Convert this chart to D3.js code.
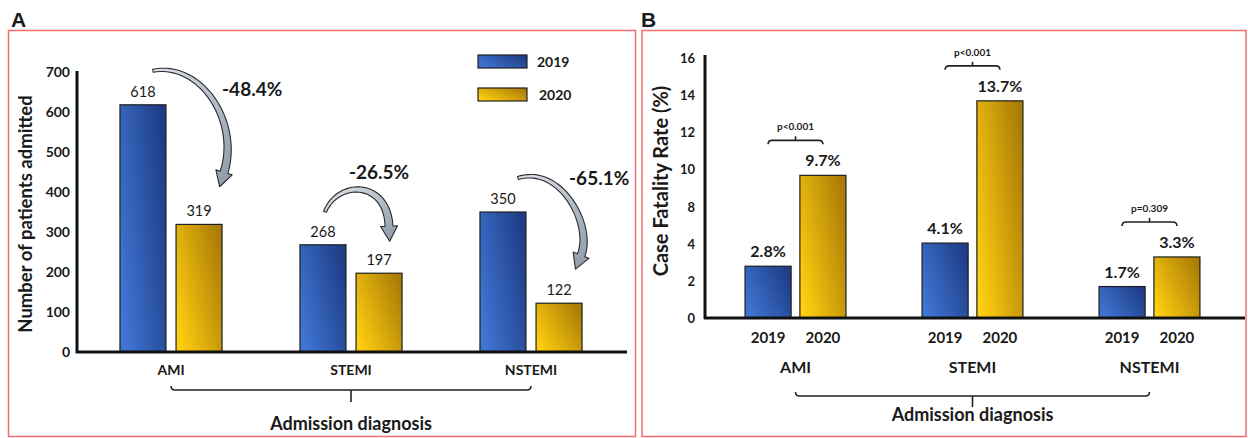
<!DOCTYPE html>
<html lang="en">
<head>
<meta charset="UTF-8">
<title>AMI admissions and case fatality, 2019 vs 2020</title>
<script src="https://d3js.org/d3.v7.min.js"></script>
<style>
  body { margin: 0; background: #fff; }
  svg text { font-family: Lato, "Open Sans", sans-serif; fill: #1a1a1a; }
  .panel-letter { font-family: "Liberation Sans", Arial, sans-serif !important; font-weight: bold; font-size: 21px; }
</style>
</head>
<body>
<svg width="1248" height="438"></svg>
<script>
// --- data ---
const categories = ["AMI", "STEMI", "NSTEMI"];
const years = ["2019", "2020"];
const admitted2019 = [618, 268, 350];
const admitted2020 = [319, 197, 122];
const changeLabels = ["-48.4%", "-26.5%", "-65.1%"];
const fatality2019 = [2.8, 4.1, 1.7];
const fatality2020 = [9.7, 13.7, 3.3];
const pLabels = ["p<0.001", "p<0.001", "p=0.309"];
const ticksA = [0, 100, 200, 300, 400, 500, 600, 700];
// the original axis of panel B has no "6" label: 4 is followed by 8
const ticksB = [0, 2, 4, 8, 10, 12, 14, 16];

const svg = d3.select("svg");
const defs = svg.append("defs");

function grad(id, c0, c1, x1, y1, x2, y2) {
  const g = defs.append("linearGradient").attr("id", id)
    .attr("x1", x1).attr("y1", y1).attr("x2", x2).attr("y2", y2);
  g.append("stop").attr("offset", "0%").attr("stop-color", c0);
  g.append("stop").attr("offset", "100%").attr("stop-color", c1);
}
grad("gBlue", "#3f76d4", "#1f3d86", 0, 0.75, 1, 0.25);
grad("gGold", "#ffcf10", "#aa7c06", 0, 0.8, 1, 0.2);
grad("gArrow", "#dde3ea", "#8d99a9", 0, 0, 1, 1);
const fillOf = { "2019": "url(#gBlue)", "2020": "url(#gGold)" };

// panel frames and letters
svg.append("rect").attr("x", 8.5).attr("y", 30.5).attr("width", 627).attr("height", 406)
  .attr("fill", "none").attr("stroke", "#f07070").attr("stroke-width", 1.5);
svg.append("rect").attr("x", 642).attr("y", 30.5).attr("width", 604).attr("height", 406)
  .attr("fill", "none").attr("stroke", "#f07070").attr("stroke-width", 1.5);
svg.append("text").attr("class", "panel-letter").attr("x", 11).attr("y", 27).text("A");
svg.append("text").attr("class", "panel-letter").attr("x", 641).attr("y", 27).text("B");

// bracket used under the category labels and for p-values
function bracket(g, xl, xr, y, dir, tick) {
  // dir = -1 : ends bend up, tick goes down ; dir = 1 : ends bend down, tick goes up
  const r = 4;
  g.append("path")
    .attr("d", `M${xl},${y + dir * r} Q${xl},${y} ${xl + r},${y} H${xr - r} Q${xr},${y} ${xr},${y + dir * r}`)
    .attr("fill", "none").attr("stroke", "#222").attr("stroke-width", 1.6);
  const xm = (xl + xr) / 2;
  g.append("line").attr("x1", xm).attr("x2", xm).attr("y1", y).attr("y2", y - dir * tick)
    .attr("stroke", "#222").attr("stroke-width", 1.6);
}

// tapered curved arrow
function arrowPath(p0, c1, c2, p3, w0, w1, headLen, headW) {
  const N = 40, left = [], right = [];
  const bz = (t, a, b, c, d) => (1 - t) ** 3 * a + 3 * (1 - t) ** 2 * t * b + 3 * (1 - t) * t * t * c + t ** 3 * d;
  const dz = (t, a, b, c, d) => 3 * (1 - t) ** 2 * (b - a) + 6 * (1 - t) * t * (c - b) + 3 * t * t * (d - c);
  let ux = 0, uy = 0;
  for (let i = 0; i <= N; i++) {
    const t = i / N;
    const x = bz(t, p0[0], c1[0], c2[0], p3[0]), y = bz(t, p0[1], c1[1], c2[1], p3[1]);
    const dx = dz(t, p0[0], c1[0], c2[0], p3[0]), dy = dz(t, p0[1], c1[1], c2[1], p3[1]);
    const len = Math.hypot(dx, dy);
    ux = dx / len; uy = dy / len;
    const w = (w0 + (w1 - w0) * t) / 2;
    left.push([x - uy * w, y + ux * w]);
    right.push([x + uy * w, y - ux * w]);
  }
  const tip = [p3[0] + ux * headLen, p3[1] + uy * headLen];
  const hl = [p3[0] - uy * headW / 2, p3[1] + ux * headW / 2];
  const hr = [p3[0] + uy * headW / 2, p3[1] - ux * headW / 2];
  return d3.line()([...left, hl, tip, hr, ...right.reverse()]) + "Z";
}

// ================= PANEL A =================
const gA = svg.append("g");
const yA = d3.scaleLinear().domain([0, 700]).range([352, 72]);
const xA = d3.scaleBand().domain(categories).range([81, 621]).paddingInner(0.433).paddingOuter(0.2165);
const x1A = d3.scaleBand().domain(years).range([0, xA.bandwidth()]).paddingInner(0.18);

const rowsA = categories.map((c, i) => ({ cat: c, vals: [
  { year: "2019", v: admitted2019[i] }, { year: "2020", v: admitted2020[i] }] }));

const grpA = gA.selectAll("g.grp").data(rowsA).join("g").attr("class", "grp")
  .attr("transform", d => `translate(${xA(d.cat)},0)`);
grpA.selectAll("rect").data(d => d.vals).join("rect")
  .attr("x", d => x1A(d.year)).attr("width", x1A.bandwidth())
  .attr("y", d => yA(d.v)).attr("height", d => yA(0) - yA(d.v))
  .attr("fill", d => fillOf[d.year]).attr("stroke", "#1e1e1e").attr("stroke-width", 1.2);
grpA.selectAll("text.val").data(d => d.vals).join("text").attr("class", "val")
  .attr("x", d => x1A(d.year) + x1A.bandwidth() / 2).attr("y", d => yA(d.v) - 8)
  .attr("text-anchor", "middle").attr("font-size", 14.5).text(d => d.v);

// y axis A
const axA = gA.append("g").attr("transform", "translate(77,0)")
  .call(d3.axisLeft(yA).tickValues(ticksA).tickSize(0).tickPadding(7));
axA.select(".domain").attr("stroke", "#111").attr("stroke-width", 3).attr("d", "M0,353V71");
axA.selectAll("text").attr("font-size", 14).attr("font-weight", "bold").attr("font-family", "Lato");
gA.append("line").attr("x1", 76).attr("x2", 627).attr("y1", 352).attr("y2", 352)
  .attr("stroke", "#111").attr("stroke-width", 3);

// category labels A
const cxA = gA.append("g").attr("transform", "translate(0,352)")
  .call(d3.axisBottom(xA).tickSize(0).tickPadding(13));
cxA.select(".domain").remove();
cxA.selectAll("text").attr("font-size", 14).attr("font-weight", "bold").attr("font-family", "Lato");

const midA = c => xA(c) + xA.bandwidth() / 2;
bracket(gA, midA("AMI"), midA("NSTEMI"), 390, -1, 12);
gA.append("text").attr("x", midA("STEMI")).attr("y", 430).attr("text-anchor", "middle")
  .attr("font-size", 18).attr("font-weight", "bold").text("Admission diagnosis");

gA.append("text").attr("transform", "translate(32,214) rotate(-90)").attr("text-anchor", "middle")
  .attr("font-size", 18.5).attr("font-weight", "bold").text("Number of patients admitted");

// legend
const leg = gA.append("g");
years.forEach((yr, i) => {
  leg.append("rect").attr("x", 478).attr("y", 55 + i * 33).attr("width", 49).attr("height", 13)
    .attr("fill", fillOf[yr]).attr("stroke", "#1e1e1e").attr("stroke-width", 1.2);
  leg.append("text").attr("x", 537 + i * 2).attr("y", 67 + i * 33)
    .attr("font-size", 14).attr("font-weight", "bold").text(yr);
});

// change arrows: offsets relative to the 2019 bar top (start) and 2020 bar top (end)
const arrowLayout = [
  { p0: [10, -34], c1: [57, -43], c2: [41, -104], p3: [25, -52], lab: [23, -9, "start"], labFrom: 0 },
  { p0: [2, -33], c1: [15, -65], c2: [8, -93], p3: [10, -47], lab: [0, -94, "middle"], labFrom: 1 },
  { p0: [15, -34], c1: [58, -47], c2: [34, -78], p3: [22, -48], lab: [10, -118, "start"], labFrom: 1 }
];
rowsA.forEach((d, i) => {
  const L = arrowLayout[i];
  const b19 = [xA(d.cat) + x1A("2019") + x1A.bandwidth() / 2, yA(d.vals[0].v)];
  const b20 = [xA(d.cat) + x1A("2020") + x1A.bandwidth() / 2, yA(d.vals[1].v)];
  const rel = (b, o) => [b[0] + o[0], b[1] + o[1]];
  gA.append("path")
    .attr("d", arrowPath(rel(b19, L.p0), rel(b19, L.c1), rel(b20, L.c2), rel(b20, L.p3), 3, 8, 15, 17))
    .attr("fill", "url(#gArrow)").attr("stroke", "#2a2a2a").attr("stroke-width", 1.1)
    .attr("stroke-linejoin", "round");
  const yRef = L.labFrom === 0 ? b19[1] : b20[1];
  gA.append("text").attr("x", b20[0] + L.lab[0]).attr("y", yRef + L.lab[1])
    .attr("text-anchor", L.lab[2]).attr("font-size", 19).attr("font-weight", "bold")
    .text(changeLabels[i]);
});

// ================= PANEL B =================
const gB = svg.append("g");
const yB = d3.scaleLinear().domain([0, 4, 8, 16]).range([318, 244, 207, 58]);
const xB = d3.scaleBand().domain(categories).range([707, 1238]).paddingInner(0.43).paddingOuter(0.215);
const x1B = d3.scaleBand().domain(years).range([0, xB.bandwidth()]).paddingInner(0.16);

const rowsB = categories.map((c, i) => ({ cat: c, p: pLabels[i], vals: [
  { year: "2019", v: fatality2019[i] }, { year: "2020", v: fatality2020[i] }] }));

const grpB = gB.selectAll("g.grp").data(rowsB).join("g").attr("class", "grp")
  .attr("transform", d => `translate(${xB(d.cat)},0)`);
grpB.selectAll("rect").data(d => d.vals).join("rect")
  .attr("x", d => x1B(d.year)).attr("width", x1B.bandwidth())
  .attr("y", d => yB(d.v)).attr("height", d => yB(0) - yB(d.v))
  .attr("fill", d => fillOf[d.year]).attr("stroke", "#1e1e1e").attr("stroke-width", 1.2);
grpB.selectAll("text.val").data(d => d.vals).join("text").attr("class", "val")
  .attr("x", d => x1B(d.year) + x1B.bandwidth() / 2).attr("y", d => yB(d.v) - 9)
  .attr("text-anchor", "middle").attr("font-size", 16).attr("font-weight", "bold")
  .text(d => d.v.toFixed(1) + "%");

// year labels under each bar
grpB.each(function () {
  const ax = d3.select(this).append("g").attr("transform", "translate(0,318)")
    .call(d3.axisBottom(x1B).tickSize(0).tickPadding(14));
  ax.select(".domain").remove();
  ax.selectAll("text").attr("font-size", 15).attr("font-weight", "bold").attr("font-family", "Lato");
});

// p-value brackets
grpB.each(function (d) {
  const g = d3.select(this);
  const yb = yB(d3.max(d.vals, v => v.v)) - 35;
  const xl = x1B("2019") + x1B.bandwidth() / 2, xr = x1B("2020") + x1B.bandwidth() / 2;
  bracket(g, xl, xr, yb, 1, 4);
  g.append("text").attr("x", (xl + xr) / 2).attr("y", yb - 10).attr("text-anchor", "middle")
    .attr("font-size", 10).attr("font-weight", "bold").text(d.p);
});

const axB = gB.append("g").attr("transform", "translate(705,0)")
  .call(d3.axisLeft(yB).tickValues(ticksB).tickSize(0).tickPadding(10).tickFormat(d3.format("d")));
axB.select(".domain").attr("stroke", "#111").attr("stroke-width", 3).attr("d", "M0,319V55");
axB.selectAll("text").attr("font-size", 13).attr("font-weight", "bold").attr("font-family", "Lato");
gB.append("line").attr("x1", 704).attr("x2", 1245).attr("y1", 318).attr("y2", 318)
  .attr("stroke", "#111").attr("stroke-width", 3);

const cxB = gB.append("g").attr("transform", "translate(0,318)")
  .call(d3.axisBottom(xB).tickSize(0).tickPadding(44));
cxB.select(".domain").remove();
cxB.selectAll("text").attr("font-size", 16).attr("font-weight", "bold").attr("font-family", "Lato");

const midB = c => xB(c) + xB.bandwidth() / 2;
bracket(gB, midB("AMI"), midB("NSTEMI"), 396, -1, 11);
gB.append("text").attr("x", midB("STEMI")).attr("y", 421).attr("text-anchor", "middle")
  .attr("font-size", 18).attr("font-weight", "bold").text("Admission diagnosis");

gB.append("text").attr("transform", "translate(668,181) rotate(-90)").attr("text-anchor", "middle")
  .attr("font-size", 20).attr("font-weight", "bold").text("Case Fatality Rate (%)");
</script>
</body>
</html>
